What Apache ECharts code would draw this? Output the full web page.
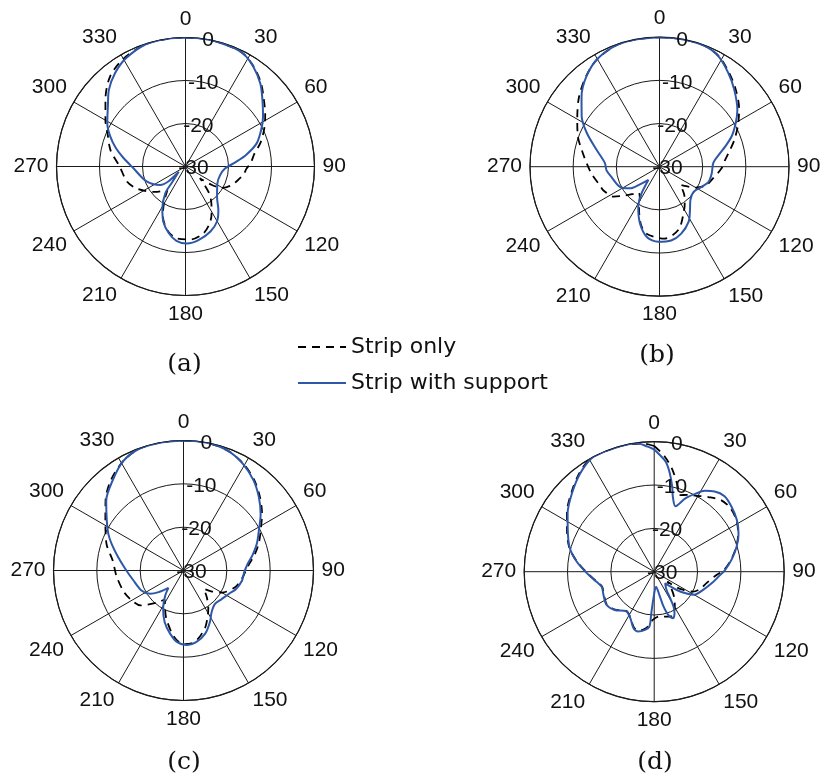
<!DOCTYPE html>
<html>
<head>
<meta charset="utf-8">
<script src="https://cdn.jsdelivr.net/npm/echarts@6/dist/echarts.min.js"></script>
<style>
  html, body { margin: 0; padding: 0; background: #fff; }
  #chart { width: 823px; height: 778px; }
</style>
</head>
<body>
<div id="chart"></div>
<script>
// Radiation patterns: each entry is [angle in degrees, gain in dB]
const stripOnlyA = [[0,0],[10,0],[20,-0.2],[27,-0.5],[34,-1.8],[42,-3.8],[49,-5.9],[57,-7.9],[64,-9.6],[72,-11.6],[80,-13.8],[87,-14.8],[92,-15.8],[98,-16.4],[106,-17.6],[113,-18.6],[120,-20.1],[125,-22.5],[129,-25.7],[133,-24.3],[139,-21.5],[145,-19.5],[151,-17.5],[157,-15.6],[165,-13.9],[176,-13.0],[187,-13.2],[196,-14.6],[205,-17.5],[212,-20.8],[217,-23.0],[222,-22.4],[230,-20.8],[239,-19.0],[247,-17.3],[256,-15.9],[270,-14.7],[282,-12.2],[293,-10.3],[300,-8.5],[310,-5.7],[320,-2.7],[330,-1.1],[342,-0.1],[352,0],[360,0]];
const withSupportA = [[0,0],[10,0],[20,-0.2],[27,-0.5],[34,-1.9],[42,-4.0],[49,-6.3],[57,-8.5],[64,-10.4],[72,-12.6],[79,-15.6],[85,-18.3],[93,-20.8],[104,-21.7],[118,-21.6],[134,-19.8],[143,-17.3],[150,-15.3],[159,-13.8],[170,-12.6],[179,-12.1],[187,-12.6],[194,-14.0],[202,-16.2],[209,-18.9],[217,-22.2],[220,-25.0],[232,-28.0],[229,-24.7],[234,-22.7],[249,-20.3],[268,-17.9],[278,-15.4],[285,-13.2],[292,-11.1],[299,-9.2],[308,-7.1],[315,-4.8],[323,-2.8],[331,-1.3],[342,-0.1],[352,0],[360,0]];

const stripOnlyB = [[0,0],[10,0],[20,-0.1],[28,-0.9],[36,-2.8],[44,-4.7],[54,-7.2],[62,-9.4],[70,-11.5],[77,-13.3],[84,-14.7],[92,-15.7],[103,-17.4],[112,-18.4],[120,-20.3],[126,-22.3],[131,-23.6],[138,-21.5],[145,-19.8],[151,-18.3],[163,-14.8],[176,-13.3],[191,-14.2],[198,-16.0],[206,-19.2],[213,-21.6],[219,-22.3],[225,-21.0],[231,-19.3],[237,-17.3],[247,-15.9],[253,-15.5],[263,-14.3],[272,-13.2],[282,-11.6],[290,-9.9],[300,-8.0],[311,-5.3],[321,-3.0],[330,-1.2],[341,-0.1],[350,0],[360,0]];
const withSupportB = [[0,0],[10,0],[20,-0.1],[28,-1.0],[36,-3.0],[44,-5.1],[54,-7.7],[60,-9.6],[67,-11.8],[73,-14.1],[78,-15.8],[86,-17.5],[97,-17.8],[107,-18.1],[115,-19.1],[126,-20.2],[137,-19.5],[145,-17.7],[152,-15.6],[162,-13.7],[171,-12.7],[181,-12.6],[190,-13.4],[199,-16.1],[208,-19.5],[214,-22.6],[218,-25.1],[220,-26.0],[228,-23.9],[234,-21.5],[243,-19.7],[258,-18.6],[266,-17.7],[274,-17.3],[285,-14.9],[295,-11.4],[303,-8.5],[312,-5.7],[321,-3.1],[330,-1.2],[341,-0.1],[350,0],[360,0]];

const stripOnlyC = [[0,0],[10,0],[20,-0.5],[29,-1.7],[38,-3.5],[46,-5.5],[54,-7.6],[62,-9.8],[70,-11.5],[78,-13.3],[85,-14.9],[98,-16.4],[108,-17.5],[120,-19.8],[127,-22.0],[132,-23.7],[139,-21.8],[147,-19.5],[153,-17.8],[160,-15.7],[171,-13.3],[180,-13.0],[188,-14.5],[200,-18.3],[207,-20.6],[213,-22.0],[220,-20.3],[231,-17.2],[240,-16.2],[250,-15.4],[265,-14.5],[278,-13.5],[288,-11.4],[296,-10.0],[303,-8.5],[312,-5.8],[321,-3.3],[331,-1.2],[340,-0.1],[350,0],[360,0]];
const withSupportC = [[0,0],[10,0],[20,-0.5],[29,-1.8],[38,-3.7],[46,-5.8],[54,-8.0],[62,-10.3],[70,-12.0],[78,-13.8],[84,-15.1],[92,-16.0],[100,-16.3],[110,-17.2],[117,-18.2],[127,-19.0],[137,-19.4],[146,-18.4],[153,-16.6],[161,-14.6],[170,-13.2],[177,-12.8],[185,-13.4],[192,-15.1],[200,-17.3],[208,-20.0],[216,-22.8],[221,-24.7],[229,-22.4],[235,-20.6],[244,-19.3],[259,-18.2],[272,-16.5],[282,-14.5],[290,-12.4],[296,-10.7],[303,-8.9],[312,-6.0],[322,-3.5],[331,-1.2],[340,-0.1],[350,0],[360,0]];

const stripOnlyD = [[0,-1.0],[5,-3.2],[10,-6.0],[15,-9.3],[19,-11.3],[24,-10.6],[30,-9.8],[36,-8.7],[43,-7.4],[50,-7.1],[58,-7.6],[66,-8.8],[73,-10.2],[81,-12.0],[89,-14.0],[93,-15.6],[102,-17.6],[110,-18.6],[117,-19.9],[124,-23.0],[127,-26.2],[132,-25.0],[142,-22.5],[150,-20.5],[158,-19.0],[166,-19.3],[174,-19.6],[182,-18.8],[188,-16.9],[195,-15.9],[200,-16.3],[207,-18.0],[215,-18.9],[226,-17.4],[235,-16.7],[245,-17.2],[254,-17.5],[260,-16.6],[269,-14.5],[278,-11.9],[286,-9.6],[296,-7.6],[304,-5.7],[314,-3.5],[323,-1.4],[331,0],[340,0],[348,0],[355,-0.3],[360,-1.0]];
const withSupportD = [[0,-1.8],[2,-2.7],[6,-4.5],[9,-7.0],[12,-10.0],[14,-12.2],[18,-14.1],[23,-11.6],[28,-9.6],[32,-8.0],[37,-6.8],[43,-6.2],[50,-6.7],[58,-7.5],[66,-8.7],[73,-10.1],[81,-11.9],[89,-13.7],[93,-14.8],[100,-16.2],[110,-17.9],[120,-19.4],[124,-21.0],[129,-23.3],[137,-26.3],[146,-24.9],[149,-22.8],[151,-20.8],[154,-19.3],[158,-18.4],[162,-19.5],[165,-21.7],[167,-24.1],[173,-26.5],[182,-23.5],[184,-20.4],[185,-17.3],[189,-16.4],[195,-15.7],[200,-16.1],[207,-17.9],[215,-18.8],[226,-17.3],[235,-16.6],[245,-17.1],[254,-17.4],[260,-16.5],[269,-14.4],[278,-11.8],[286,-9.7],[296,-7.8],[304,-5.9],[314,-3.7],[323,-1.6],[331,-0.1],[338,0],[347,0],[352,0],[357,-1.1],[360,-1.8]];

// Axis ticks and labels
const radialTicks = [-30, -20, -10, 0];
const angleStep = 30;
const captions = ['(a)', '(b)', '(c)', '(d)'];
const seriesNames = ['Strip only', 'Strip with support'];

const stripOnly = [stripOnlyA, stripOnlyB, stripOnlyC, stripOnlyD];
const withSupport = [withSupportA, withSupportB, withSupportC, withSupportD];

// Layout of the four polar plots
const centers = [[185.5, 166.5], [659.5, 166.7], [183.5, 570.5], [654.2, 571.7]];
const radii = [129, 129.5, 130, 130];
const captionPos = [[184.5, 364], [657, 355], [184, 762], [655, 762]];

const SANS = '"Liberation Sans", Arial, Helvetica, sans-serif';
const BLUE = '#2E57A8';
const INK = '#1a1a1a';

const toPolar = pts => pts.map(p => [p[1], p[0]]); // [radius(dB), angle]

const polar = [], angleAxis = [], radiusAxis = [], series = [];
centers.forEach((c, i) => {
  polar.push({ center: c, radius: radii[i] });
  angleAxis.push({
    polarIndex: i, type: 'value', min: 0, max: 360, interval: angleStep,
    startAngle: 90, clockwise: true,
    axisLine: { show: true, lineStyle: { color: INK, width: 1.2 } },
    axisTick: { show: false },
    splitLine: { show: true, lineStyle: { color: INK, width: 1 } },
    axisLabel: {
      margin: 8, fontSize: 21, color: '#111', fontFamily: SANS,
      formatter: v => (v === 360 ? '' : String(v))
    }
  });
  radiusAxis.push({
    polarIndex: i, type: 'value', min: radialTicks[0], max: radialTicks[radialTicks.length - 1],
    interval: 10,
    axisLine: { show: false }, axisTick: { show: false }, axisLabel: { show: false },
    splitLine: { show: true, lineStyle: { color: INK, width: 1 } }
  });
  series.push({
    type: 'line', name: seriesNames[0], coordinateSystem: 'polar', polarIndex: i,
    data: toPolar(stripOnly[i]), symbol: 'none', smooth: 0.3, silent: true,
    lineStyle: { color: '#000', width: 1.8, type: [8, 6] }, itemStyle: { color: '#000' }, z: 3
  });
  series.push({
    type: 'line', name: seriesNames[1], coordinateSystem: 'polar', polarIndex: i,
    data: toPolar(withSupport[i]), symbol: 'none', smooth: 0.3, silent: true,
    lineStyle: { color: BLUE, width: 2 }, itemStyle: { color: BLUE }, z: 4
  });
  // dB tick labels placed along a line just right of the 0° spoke
  series.push({
    type: 'scatter', coordinateSystem: 'polar', polarIndex: i, silent: true,
    data: radialTicks.map(v => [v, 6.5]),
    symbol: 'circle', symbolSize: 0.01, itemStyle: { color: '#111' },
    label: {
      show: true, position: 'inside', offset: [8, 2], opacity: 1,
      textBorderWidth: 0, textShadowBlur: 0,
      formatter: p => String(p.value[0]), fontSize: 21, color: '#111', fontFamily: SANS
    },
    z: 5
  });
});

const chart = echarts.init(document.getElementById('chart'), null, { renderer: 'canvas' });
chart.setOption({
  animation: false,
  backgroundColor: '#fff',
  polar, angleAxis, radiusAxis, series,
  legend: {
    data: seriesNames, orient: 'vertical', left: 297, top: 336, padding: 0,
    itemWidth: 48, itemHeight: 14, itemGap: 14, selectedMode: false,
    itemStyle: { opacity: 0 },
    textStyle: { fontSize: 22, fontFamily: '"DejaVu Sans", sans-serif', color: '#111', lineHeight: 22 }
  },
  graphic: captions.map((t, i) => ({
    type: 'text', x: captionPos[i][0], y: captionPos[i][1], silent: true,
    style: {
      text: t, fill: '#111', font: '25px "DejaVu Serif", "Liberation Serif", serif',
      textAlign: 'center', textVerticalAlign: 'middle'
    }
  }))
});
</script>
</body>
</html>
